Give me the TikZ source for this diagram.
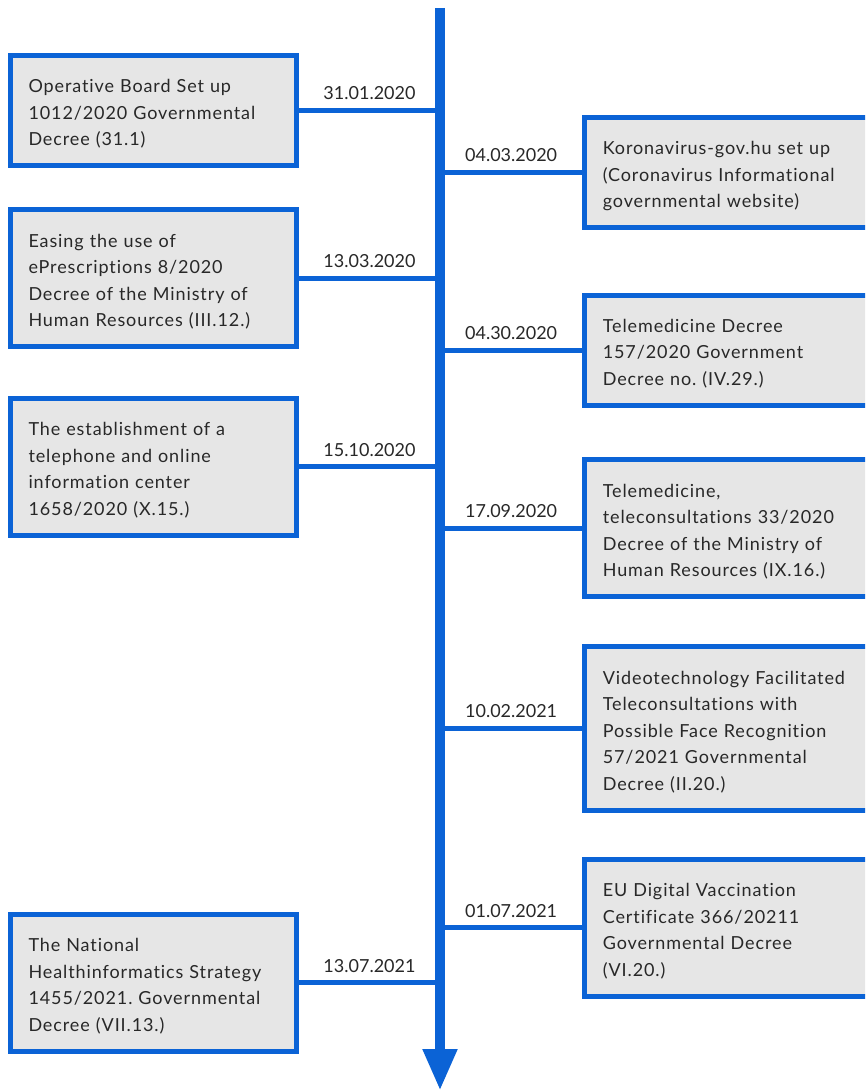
\documentclass[tikz,border=0pt]{standalone}
\usepackage{fontspec}
\setmainfont{Lato}[Ligatures=NoCommon,LetterSpace=5]
\newfontfamily\datefont{Lato}[Ligatures=NoCommon]
\usetikzlibrary{arrows.meta}
\definecolor{lineblue}{RGB}{11,99,214}
\definecolor{boxgray}{RGB}{230,230,230}
\definecolor{inkgray}{RGB}{40,40,40}
\frenchspacing

\begin{document}
\begin{tikzpicture}[x=1pt,y=-1pt,
    event/.style={draw=lineblue,line width=5pt,fill=boxgray,anchor=north west,
      minimum width=285pt,text width=250pt,inner xsep=18pt,inner ysep=0pt,align=left,
      text=inkgray,font=\fontsize{18}{26.5}\selectfont,
      execute at begin node={\rule{0pt}{21.85pt}},
      execute at end node={\rule[-4.65pt]{0pt}{0pt}}},
    link/.style={lineblue,line width=5pt},
    date/.style={midway,above,inner sep=0pt,yshift=8pt,text=inkgray,
      font=\datefont\fontsize{18}{22}\selectfont}]
      \clip (0,0) rectangle (865,1091);

      % timeline
      \coordinate (top) at (440,8);
      \coordinate (tip) at (440,1091);
      \draw[lineblue,line width=10.7pt,-{Triangle[length=42pt,width=32pt]}] (top) -- (tip);

      % left column
      \node[event,minimum height=110pt] (l1) at (8,53)
        {Operative Board Set up\\1012/2020 Governmental\\Decree (31.1)};
      \node[event,minimum height=137pt] (l2) at (8,207.3)
        {Easing the use of\\ePrescriptions 8/2020\\Decree of the Ministry of\\Human Resources (III.12.)};
      \node[event,minimum height=137pt] (l3) at (8,395.7)
        {The establishment of a\\telephone and online\\information center\\1658/2020 (X.15.)};
      \node[event,minimum height=137pt] (l4) at (8,911.7)
        {The National\\Healthinformatics Strategy\\1455/2021. Governmental\\Decree (VII.13.)};

      % right column
      \node[event,minimum height=110pt] (r1) at (582.3,115)
        {Koronavirus-gov.hu set up\\(Coronavirus Informational\\governmental website)};
      \node[event,minimum height=110pt] (r2) at (582.3,292.7)
        {Telemedicine Decree\\157/2020 Government\\Decree no. (IV.29.)};
      \node[event,minimum height=137pt] (r3) at (582.3,457.3)
        {Telemedicine,\\teleconsultations 33/2020\\Decree of the Ministry of\\Human Resources (IX.16.)};
      \node[event,minimum height=164pt] (r4) at (582.3,644)
        {Videotechnology Facilitated\\Teleconsultations with\\Possible Face Recognition\\57/2021 Governmental\\Decree (II.20.)};
      \node[event,minimum height=137pt] (r5) at (582.3,856.7)
        {EU Digital Vaccination\\Certificate 366/20211\\Governmental Decree\\(VI.20.)};

      % links to the timeline
      \draw[link] (l1.east) -- (l1.east -| top) node[date] {31.01.2020};
      \draw[link] (l2.east) -- (l2.east -| top) node[date] {13.03.2020};
      \draw[link] (l3.east) -- (l3.east -| top) node[date] {15.10.2020};
      \draw[link] (l4.east) -- (l4.east -| top) node[date] {13.07.2021};
      \draw[link] (r1.west) -- (r1.west -| top) node[date] {04.03.2020};
      \draw[link] (r2.west) -- (r2.west -| top) node[date] {04.30.2020};
      \draw[link] (r3.west) -- (r3.west -| top) node[date] {17.09.2020};
      \draw[link] (r4.west) -- (r4.west -| top) node[date] {10.02.2021};
      \draw[link] (r5.west) -- (r5.west -| top) node[date] {01.07.2021};
    \end{tikzpicture}
\end{document}
